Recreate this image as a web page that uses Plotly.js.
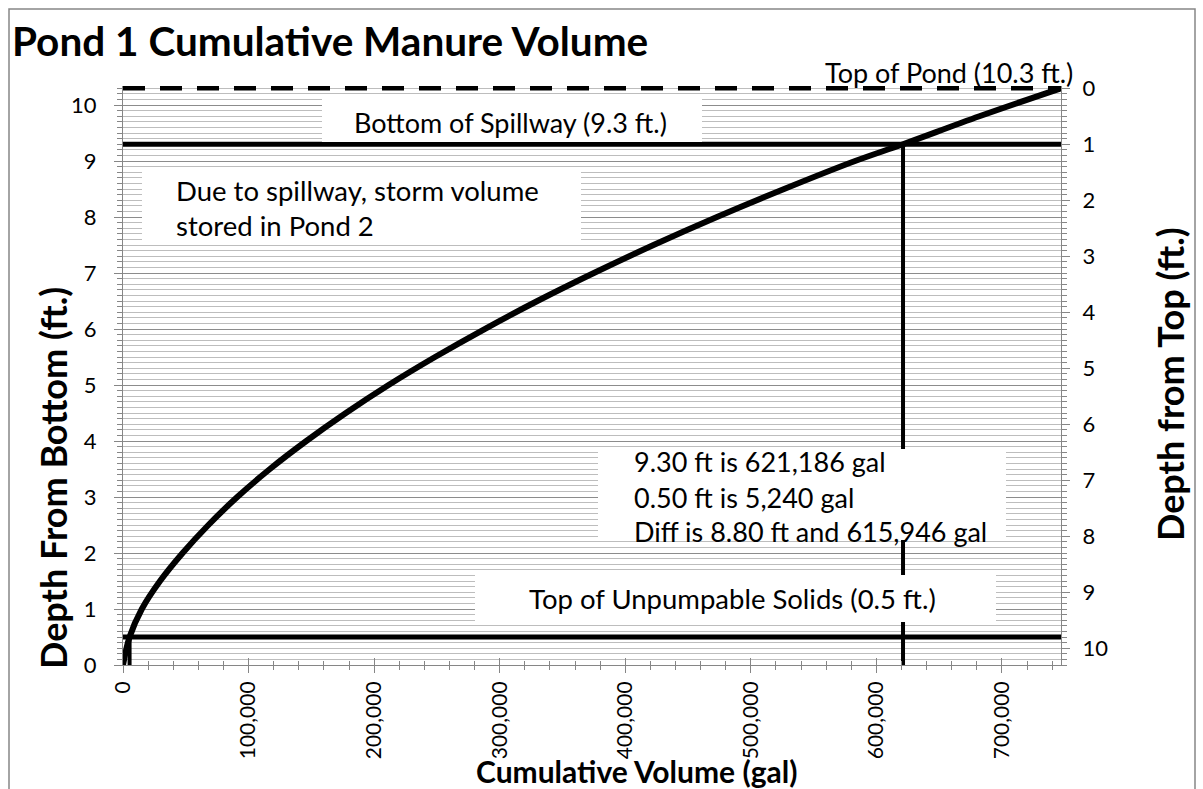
<!DOCTYPE html>
<html>
<head>
<meta charset="utf-8">
<script src="https://cdn.plot.ly/plotly-3.0.1.min.js"></script>
<style>
  html, body { margin: 0; padding: 0; background: #ffffff; }
  #chart { width: 1203px; height: 789px; }
</style>
</head>
<body>
<div id="chart"></div>
<script>
// ---- data ----
const depthFt   = [0, 0.5, 1, 1.5, 2, 2.5, 3, 3.5, 4, 4.5, 5, 5.5, 6, 6.5, 7, 7.5, 8, 8.5, 9, 9.3, 9.8, 10.3];
const volumeGal = [0, 5240, 15000, 29500, 47500, 68000, 91000, 117000, 146000, 177500, 211500, 248500, 288000, 330000, 375000, 422500, 473000, 526500, 583000, 621186, 682000, 747000];

const topOfPondX = [0, 747000];
const topOfPondY = [10.3, 10.3];
const spillwayX  = [0, 747000];
const spillwayY  = [9.3, 9.3];
const solidsX    = [0, 747000];
const solidsY    = [0.5, 0.5];
const spillDropX = [621186, 621186];
const spillDropY = [0, 9.3];
const solidsDropX = [5240, 5240];
const solidsDropY = [0, 0.5];

const xTickVals = [0, 100000, 200000, 300000, 400000, 500000, 600000, 700000];
const yTickVals = [0, 1, 2, 3, 4, 5, 6, 7, 8, 9, 10];

const chartTitle = 'Pond 1 Cumulative Manure Volume';
const xTitle = 'Cumulative Volume (gal)';
const yTitle = 'Depth From Bottom (ft.)';
const y2Title = 'Depth from Top (ft.)';
const noteTopPond = 'Top of Pond (10.3 ft.)';
const noteSpillway = 'Bottom of Spillway (9.3 ft.)';
const noteStorm = ['Due to spillway, storm volume', 'stored in Pond 2'];
const noteStats = ['9.30 ft is 621,186 gal', '0.50 ft is 5,240 gal', 'Diff is 8.80 ft and 615,946 gal'];
const noteSolids = 'Top of Unpumpable Solids (0.5 ft.)';

// ---- layout geometry ----
const W = 1203, H = 789;
const M = { l: 123, r: 142, t: 86, b: 124 };
const PW = W - M.l - M.r, PH = H - M.t - M.b;
const px = (x) => (x - M.l) / PW;
const py = (y) => (H - M.b - y) / PH;

const FONT = 'Lato, "Open Sans", sans-serif';
const GRAY = '#868686';
const TXT = 27;
const TICK = 22;
const xRange = [0, 747000];
const yRange = [0, 10.34];

const traces = [
  { x: volumeGal, y: depthFt, mode: 'lines', line: { color: '#000', width: 6, shape: 'spline', smoothing: 1 } },
  { x: topOfPondX, y: topOfPondY, mode: 'lines', line: { color: '#000', width: 4.5, dash: '22px,15px' } },
  { x: spillwayX, y: spillwayY, mode: 'lines', line: { color: '#000', width: 5 } },
  { x: solidsX, y: solidsY, mode: 'lines', line: { color: '#000', width: 5 } },
  { x: spillDropX, y: spillDropY, mode: 'lines', line: { color: '#000', width: 4 } },
  { x: solidsDropX, y: solidsDropY, mode: 'lines', line: { color: '#000', width: 4 } },
  { x: [], y: [], xaxis: 'x', yaxis: 'y2', mode: 'lines', hoverinfo: 'skip' },
  { x: [], y: [], xaxis: 'x2', yaxis: 'y', mode: 'lines', hoverinfo: 'skip' }
].map(t => Object.assign({ showlegend: false }, t));

function box(x0, x1, y0, y1) {
  return { type: 'rect', xref: 'paper', yref: 'paper', x0: px(x0), x1: px(x1), y0: py(y1), y1: py(y0),
           fillcolor: '#ffffff', line: { width: 0 }, layer: 'above' };
}
function note(text, x, y, xanchor, size, angle) {
  return { text: text, xref: 'paper', yref: 'paper', x: px(x), y: py(y), xanchor: xanchor, yanchor: 'middle',
           textangle: angle || 0, showarrow: false, font: { family: FONT, size: size || TXT, color: '#000' } };
}

const layout = {
  width: W, height: H,
  margin: M,
  paper_bgcolor: '#ffffff', plot_bgcolor: '#ffffff',
  font: { family: FONT, color: '#000' },
  showlegend: false,
  title: { text: '<b>' + chartTitle + '</b>', x: 12 / W, xanchor: 'left', xref: 'container',
           y: 1 - 42 / H, yanchor: 'middle', yref: 'container', font: { family: FONT, size: 40.5, color: '#000' } },
  xaxis: {
    range: xRange, tickvals: xTickVals, tickformat: ',d', tickangle: -90,
    tickfont: { family: FONT, size: 21, color: '#000' },
    ticks: 'outside', ticklen: 7, tickcolor: GRAY, tickwidth: 1,
    minor: { dtick: 20000, tick0: 0, ticks: 'outside', ticklen: 4, tickcolor: GRAY, showgrid: false },
    showline: true, linecolor: GRAY, linewidth: 1, showgrid: false, zeroline: false
  },
  xaxis2: {
    range: xRange, overlaying: 'x', anchor: 'y', side: 'bottom', tickvals: xTickVals,
    ticks: 'inside', ticklen: 7, tickcolor: GRAY, tickwidth: 1,
    minor: { dtick: 20000, tick0: 0, ticks: 'inside', ticklen: 4, tickcolor: GRAY, showgrid: false },
    showticklabels: false, showgrid: false, showline: false, zeroline: false
  },
  yaxis: {
    range: yRange, tickvals: yTickVals,
    tickfont: { family: FONT, size: TICK, color: '#000' },
    ticks: 'outside', ticklen: 8, tickcolor: GRAY, tickwidth: 1, ticklabelstandoff: 13,
    minor: { dtick: 0.1, tick0: 0, ticks: 'outside', ticklen: 5, tickcolor: GRAY, showgrid: true, gridcolor: '#bdbdbd', gridwidth: 1 },
    showline: true, linecolor: GRAY, linewidth: 1,
    showgrid: true, gridcolor: '#8c8c8c', gridwidth: 1, zeroline: false
  },
  yaxis2: {
    range: [10.3 - yRange[0], 10.3 - yRange[1]], overlaying: 'y', side: 'right', anchor: 'x',
    tickvals: yTickVals, tickfont: { family: FONT, size: TICK, color: '#000' },
    ticks: 'outside', ticklen: 8, tickcolor: GRAY, tickwidth: 1, ticklabelstandoff: 8,
    minor: { dtick: 0.1, tick0: 0, ticks: 'outside', ticklen: 5, tickcolor: GRAY, showgrid: false },
    showline: true, linecolor: GRAY, linewidth: 1, showgrid: false, zeroline: false
  },
  shapes: [
    box(322, 702, 99, 142),
    box(142, 581, 168, 240),
    box(598, 1006, 449, 540),
    box(475, 996, 575, 622),
    { type: 'rect', xref: 'paper', yref: 'paper', x0: px(9), x1: px(1195), y0: py(820), y1: py(9),
      line: { color: GRAY, width: 1.5 }, fillcolor: 'rgba(0,0,0,0)', layer: 'above' }
  ],
  annotations: [
    note(noteTopPond, 1075, 72, 'right'),
    note(noteSpillway, 510, 122, 'center'),
    note(noteStorm[0], 174, 190, 'left', 27.5),
    note(noteStorm[1], 174, 225, 'left', 27.5),
    note(noteStats[0], 632, 462, 'left'),
    note(noteStats[1], 632, 497, 'left'),
    note(noteStats[2], 632, 531, 'left'),
    note(noteSolids, 732, 598, 'center', 27.5),
    note('<b>' + xTitle + '</b>', 636, 771, 'center', 30),
    note('<b>' + yTitle + '</b>', 53, 478, 'center', 36, -90),
    note('<b>' + y2Title + '</b>', 1170, 384, 'center', 36, -90)
  ]
};

Plotly.newPlot('chart', traces, layout, { displayModeBar: false, staticPlot: true });
</script>
</body>
</html>
